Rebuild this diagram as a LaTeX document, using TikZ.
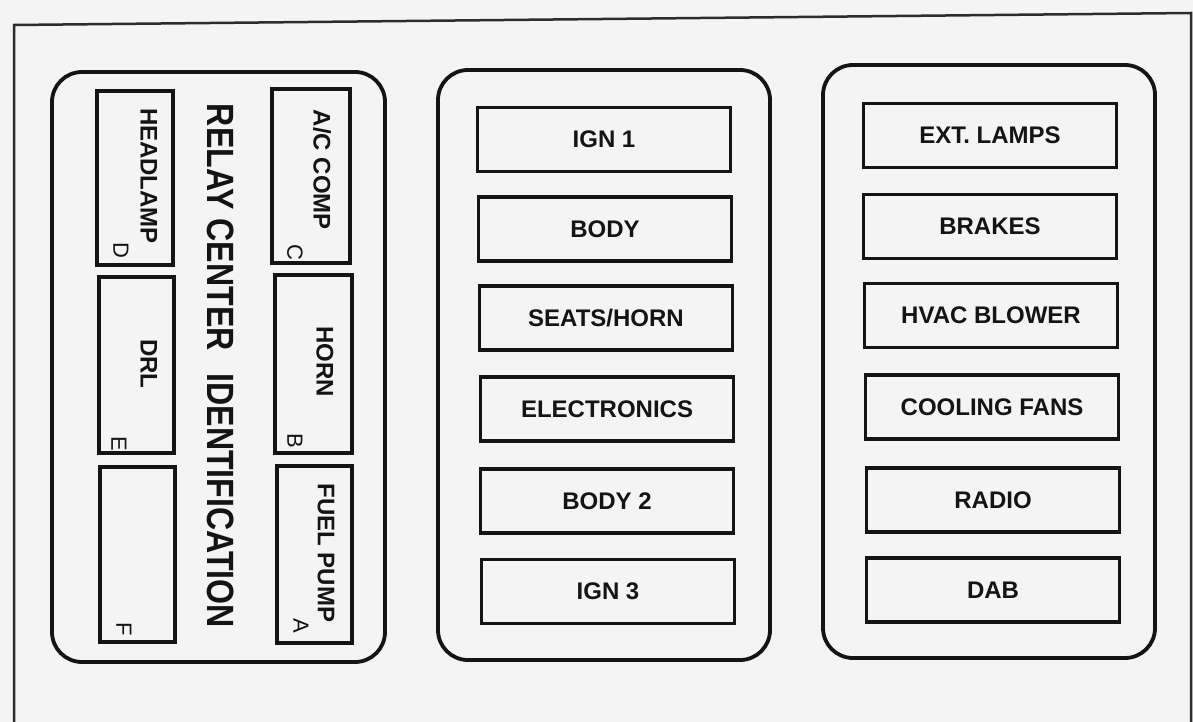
\documentclass[tikz,border=0pt]{standalone}
\usepackage{fontspec}
\usepackage{graphicx}
\setmainfont{Liberation Sans}
\definecolor{bgc}{RGB}{244,244,244}
\definecolor{inkc}{RGB}{20,20,20}
\begin{document}
\begin{tikzpicture}[x=1pt,y=-1pt,
  ink/.style={draw=inkc, line width=3.8pt},
  panel/.style={ink, rounded corners=30pt},
  fuse/.style={ink, minimum width=253pt, minimum height=64pt, inner sep=0pt, text=inkc,
    font=\fontsize{24}{24}\selectfont\bfseries},
  relay/.style={ink, inner sep=0pt},
  rlabel/.style={rotate=-90, inner sep=0pt, text=inkc, font=\fontsize{24}{24}\selectfont\bfseries},
  rletter/.style={rotate=-90, inner sep=0pt, text=inkc, font=\fontsize{22}{22}\selectfont},
  title/.style={rotate=-90, inner sep=0pt, text=inkc, font=\fontsize{38}{38}\selectfont\bfseries},
]
\fill[bgc] (0,0) rectangle (1193,722);
\useasboundingbox (0,0) rectangle (1193,722);

% outer frame
\draw[draw=inkc!90, line width=2.5pt] (14,722) -- (14,25) -- (1191,13) -- (1191,722);

% panels
\draw[panel] (52,72) rectangle (385,662);
\draw[panel] (438,70) rectangle (770,660);
\draw[panel] (823,65) rectangle (1155,658);

% left panel: relays
\node[relay, minimum width=76pt, minimum height=174pt] (rD) at (135,178) {};
\node[relay, minimum width=75pt, minimum height=176pt] (rE) at (136.5,365) {};
\node[relay, minimum width=75pt, minimum height=175pt] (rF) at (137.5,554.5) {};
\node[relay, minimum width=78pt, minimum height=174pt] (rC) at (311,176) {};
\node[relay, minimum width=77pt, minimum height=178pt] (rB) at (313.5,364) {};
\node[relay, minimum width=75pt, minimum height=177pt] (rA) at (314.5,554.5) {};

\node[rlabel] (lD) at (149,176) {HEADLAMP};
\node[rlabel] (lE) at (149,364) {DRL};
\node[rlabel] (lC) at (322,170) {A/C COMP};
\node[rlabel] (lB) at (325,362) {HORN};
\node[rlabel] (lA) at (326,553) {FUEL PUMP};

\node[rletter] (kD) at (121,250) {D};
\node[rletter] (kE) at (119,444) {E};
\node[rletter] (kF) at (124,629) {F};
\node[rletter] (kC) at (295,252) {C};
\node[rletter] (kB) at (295,441) {B};
\node[rletter] (kA) at (301,626) {A};

\node[title] (ttl) at (221,366) {\scalebox{0.845}[1]{RELAY CENTER\hspace{27pt}IDENTIFICATION}};

% middle panel
\node[fuse] (ign1) at (604,139.5) {IGN 1};
\node[fuse] (body) at (605,229) {BODY};
\node[fuse] (seats) at (606,318) {SEATS/HORN};
\node[fuse] (elec) at (607,409) {ELECTRONICS};
\node[fuse] (body2) at (607,501) {BODY 2};
\node[fuse] (ign3) at (608,591.5) {IGN 3};

% right panel
\node[fuse] (ext) at (990,135.5) {EXT. LAMPS};
\node[fuse] (brakes) at (990,226.5) {BRAKES};
\node[fuse] (hvac) at (991,315.5) {HVAC BLOWER};
\node[fuse] (cool) at (992,407) {COOLING FANS};
\node[fuse] (radio) at (993,500) {RADIO};
\node[fuse] (dab) at (993,590) {DAB};
\end{tikzpicture}
\end{document}
